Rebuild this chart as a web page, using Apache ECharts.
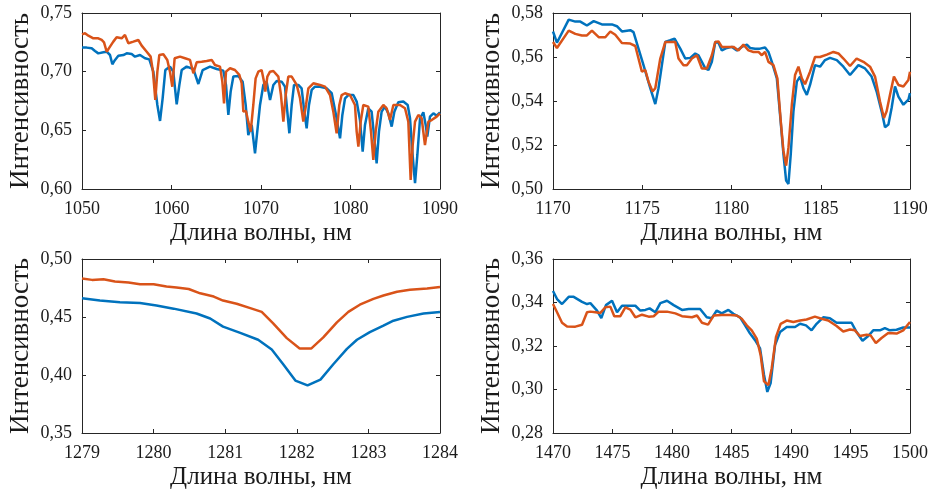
<!DOCTYPE html>
<html>
<head>
<meta charset="utf-8">
<script src="https://cdn.jsdelivr.net/npm/echarts@6/dist/echarts.min.js"></script>
<style>
  html, body { margin: 0; padding: 0; background: #fff; }
  #chart { width: 934px; height: 491px; }
</style>
</head>
<body>
<div id="chart"></div>
<script>
// ---- Spectral range 1050–1090 nm ----
const wlA1 = [1050.00,1050.52,1051.08,1051.45,1051.82,1052.38,1052.76,1053.13,1053.39,1053.69,1054.06,1054.62,1054.99,1055.55,1055.92,1056.48,1057.04,1057.52,1057.97,1058.42,1058.72,1059.01,1059.31,1059.83,1060.20,1060.58,1060.88,1061.14,1061.69,1062.44,1063.00,1063.48,1064.30,1065.05,1065.79,1066.09,1066.35,1066.61,1066.91,1067.47,1067.95,1068.29,1068.58,1068.96,1069.33,1069.89,1070.26,1070.63,1071.01,1071.38,1071.75,1072.31,1072.68,1072.94,1073.17,1073.43,1073.69,1074.17,1074.54,1074.84,1075.10,1075.36,1075.66,1076.03,1076.59,1077.34,1077.90,1078.38,1078.83,1079.09,1079.39,1079.76,1080.32,1080.69,1081.06,1081.36,1081.62,1081.99,1082.36,1082.66,1082.92,1083.18,1083.48,1083.85,1084.23,1084.60,1084.90,1085.34,1085.90,1086.39,1086.65,1086.91,1087.21,1087.47,1087.77,1088.14,1088.40,1088.58,1088.88,1089.26,1089.63,1090.00];
const inA1 = [0.7207,0.7205,0.7199,0.7176,0.7156,0.7165,0.7170,0.7142,0.7063,0.7100,0.7136,0.7142,0.7156,0.7150,0.7128,0.7142,0.7114,0.7105,0.7000,0.6716,0.6580,0.6773,0.7014,0.7043,0.7000,0.6722,0.6887,0.7014,0.7043,0.7023,0.6895,0.7014,0.7043,0.7023,0.7009,0.6887,0.6631,0.6830,0.6958,0.6963,0.6915,0.6716,0.6460,0.6546,0.6304,0.6716,0.6887,0.6915,0.6759,0.6887,0.6921,0.6915,0.6872,0.6659,0.6475,0.6716,0.6887,0.6887,0.6858,0.6659,0.6517,0.6716,0.6844,0.6872,0.6872,0.6858,0.6816,0.6631,0.6432,0.6631,0.6773,0.6801,0.6801,0.6745,0.6588,0.6319,0.6546,0.6688,0.6659,0.6432,0.6219,0.6489,0.6659,0.6702,0.6645,0.6532,0.6659,0.6739,0.6745,0.6716,0.6603,0.6319,0.6049,0.6290,0.6603,0.6654,0.6546,0.6446,0.6617,0.6645,0.6625,0.6654];
const wlA2 = [1050.00,1050.34,1050.71,1051.27,1051.82,1052.20,1052.46,1052.76,1053.13,1053.50,1053.87,1054.43,1054.80,1055.18,1055.74,1056.29,1056.67,1057.23,1057.67,1057.93,1058.19,1058.42,1058.64,1059.09,1059.53,1059.83,1060.09,1060.35,1060.95,1061.51,1062.07,1062.44,1062.81,1063.37,1063.93,1064.49,1064.86,1065.42,1065.68,1065.87,1066.09,1066.54,1067.09,1067.58,1067.84,1068.03,1068.32,1068.58,1068.85,1069.14,1069.40,1069.70,1070.07,1070.34,1070.48,1070.71,1071.01,1071.38,1071.94,1072.23,1072.50,1072.76,1073.05,1073.43,1073.99,1074.36,1074.73,1075.03,1075.29,1075.85,1076.59,1077.15,1077.71,1078.08,1078.45,1078.75,1079.01,1079.39,1079.94,1080.50,1080.69,1080.88,1081.14,1081.43,1081.99,1082.29,1082.55,1082.81,1083.11,1083.67,1084.04,1084.41,1084.79,1085.53,1086.09,1086.46,1086.72,1086.95,1087.21,1087.58,1087.95,1088.32,1088.70,1089.07,1089.63,1090.00];
const inA2 = [0.7318,0.7327,0.7307,0.7284,0.7284,0.7270,0.7250,0.7170,0.7213,0.7256,0.7293,0.7284,0.7313,0.7242,0.7256,0.7270,0.7222,0.7170,0.7128,0.7000,0.6759,0.7000,0.7142,0.7148,0.7100,0.7000,0.6872,0.7114,0.7128,0.7114,0.7100,0.6986,0.7080,0.7085,0.7091,0.7100,0.7057,0.7043,0.6915,0.6730,0.7000,0.7029,0.7014,0.6972,0.6901,0.6660,0.6665,0.6574,0.6489,0.6716,0.6943,0.7000,0.7014,0.6915,0.6830,0.6958,0.7000,0.7006,0.6958,0.6801,0.6574,0.6801,0.6958,0.6958,0.6887,0.6773,0.6574,0.6716,0.6858,0.6901,0.6887,0.6872,0.6801,0.6659,0.6475,0.6716,0.6801,0.6816,0.6801,0.6716,0.6489,0.6361,0.6574,0.6716,0.6702,0.6489,0.6248,0.6489,0.6659,0.6716,0.6688,0.6588,0.6716,0.6716,0.6688,0.6574,0.6077,0.6375,0.6574,0.6631,0.6603,0.6375,0.6574,0.6588,0.6617,0.6645];

// ---- Spectral range 1170–1190 nm ----
const wlB1 = [1170.00,1170.22,1170.88,1171.25,1171.53,1171.90,1172.28,1172.74,1173.30,1173.58,1173.86,1174.33,1174.51,1174.79,1175.07,1175.45,1175.73,1175.91,1176.10,1176.29,1176.57,1176.81,1177.13,1177.41,1177.69,1177.97,1178.15,1178.53,1178.71,1178.90,1179.09,1179.27,1179.46,1179.74,1180.02,1180.30,1180.58,1180.86,1181.04,1181.32,1181.60,1181.88,1182.07,1182.26,1182.54,1182.72,1182.91,1183.06,1183.19,1183.32,1183.47,1183.66,1183.84,1184.03,1184.22,1184.40,1184.68,1184.96,1185.24,1185.52,1185.90,1186.27,1186.64,1187.11,1187.48,1187.85,1188.13,1188.41,1188.60,1188.79,1188.97,1189.16,1189.35,1189.63,1189.91,1190.00];
const inB1 = [0.5716,0.5665,0.5770,0.5761,0.5761,0.5743,0.5763,0.5748,0.5748,0.5740,0.5716,0.5722,0.5713,0.5638,0.5563,0.5458,0.5386,0.5458,0.5563,0.5668,0.5676,0.5683,0.5638,0.5593,0.5596,0.5616,0.5608,0.5548,0.5541,0.5578,0.5668,0.5665,0.5630,0.5641,0.5646,0.5630,0.5646,0.5656,0.5641,0.5638,0.5638,0.5643,0.5623,0.5578,0.5503,0.5338,0.5158,0.5038,0.5023,0.5158,0.5353,0.5488,0.5511,0.5458,0.5428,0.5473,0.5563,0.5556,0.5586,0.5596,0.5586,0.5556,0.5518,0.5563,0.5548,0.5511,0.5443,0.5353,0.5281,0.5293,0.5368,0.5466,0.5420,0.5383,0.5406,0.5436];
const wlB2 = [1170.00,1170.22,1170.88,1171.25,1171.62,1171.90,1172.18,1172.56,1172.93,1173.21,1173.49,1173.86,1174.33,1174.61,1174.98,1175.17,1175.35,1175.58,1175.73,1176.01,1176.29,1176.66,1176.85,1177.03,1177.31,1177.50,1177.78,1178.06,1178.34,1178.62,1178.90,1179.09,1179.27,1179.46,1179.83,1180.11,1180.39,1180.67,1180.95,1181.23,1181.51,1181.70,1181.88,1182.07,1182.35,1182.57,1182.76,1182.91,1183.06,1183.19,1183.38,1183.56,1183.75,1183.94,1184.12,1184.40,1184.68,1184.96,1185.34,1185.71,1185.99,1186.27,1186.64,1187.01,1187.39,1187.76,1188.04,1188.32,1188.54,1188.69,1188.88,1189.10,1189.35,1189.63,1189.91,1190.00];
const inB2 = [0.5668,0.5641,0.5720,0.5705,0.5698,0.5698,0.5720,0.5690,0.5690,0.5716,0.5701,0.5664,0.5661,0.5650,0.5533,0.5541,0.5488,0.5443,0.5458,0.5593,0.5668,0.5668,0.5668,0.5593,0.5563,0.5563,0.5593,0.5608,0.5548,0.5548,0.5608,0.5668,0.5671,0.5646,0.5646,0.5646,0.5630,0.5656,0.5630,0.5623,0.5623,0.5608,0.5623,0.5578,0.5563,0.5503,0.5308,0.5173,0.5106,0.5188,0.5383,0.5518,0.5556,0.5503,0.5476,0.5533,0.5600,0.5600,0.5611,0.5623,0.5616,0.5593,0.5559,0.5593,0.5578,0.5556,0.5511,0.5398,0.5323,0.5353,0.5428,0.5511,0.5473,0.5466,0.5496,0.5533];

// ---- Spectral range 1279–1284 nm ----
const wlC1 = [1279.00,1279.25,1279.53,1279.81,1280.04,1280.28,1280.60,1280.79,1280.97,1281.21,1281.46,1281.65,1281.81,1281.98,1282.15,1282.33,1282.51,1282.70,1282.84,1283.02,1283.21,1283.35,1283.54,1283.77,1284.00];
const inC1 = [0.4662,0.4642,0.4628,0.4620,0.4600,0.4572,0.4530,0.4487,0.4417,0.4363,0.4304,0.4220,0.4093,0.3952,0.3910,0.3960,0.4093,0.4225,0.4304,0.4369,0.4425,0.4468,0.4501,0.4530,0.4544];
const wlC2 = [1279.00,1279.14,1279.30,1279.46,1279.65,1279.81,1280.00,1280.18,1280.32,1280.49,1280.65,1280.84,1280.97,1281.16,1281.35,1281.51,1281.67,1281.86,1282.04,1282.20,1282.37,1282.56,1282.72,1282.88,1283.07,1283.21,1283.40,1283.58,1283.82,1284.00];
const inC2 = [0.4831,0.4820,0.4825,0.4806,0.4797,0.4783,0.4783,0.4763,0.4755,0.4741,0.4704,0.4676,0.4642,0.4614,0.4577,0.4544,0.4445,0.4318,0.4228,0.4228,0.4324,0.4454,0.4544,0.4606,0.4656,0.4685,0.4718,0.4735,0.4746,0.4758];

// ---- Spectral range 1470–1500 nm ----
const wlD1 = [1470.00,1470.34,1470.76,1471.32,1471.74,1472.44,1472.86,1473.14,1473.70,1474.06,1474.45,1474.96,1475.38,1475.80,1476.50,1476.92,1477.34,1477.76,1478.12,1478.60,1479.02,1479.58,1480.14,1480.84,1481.40,1481.96,1482.36,1482.92,1483.34,1483.76,1484.18,1484.74,1485.16,1485.72,1486.14,1486.56,1486.98,1487.40,1487.73,1488.01,1488.29,1488.66,1489.08,1489.64,1490.34,1490.76,1491.26,1491.73,1492.15,1492.71,1493.27,1493.83,1494.53,1495.09,1495.51,1496.01,1496.49,1496.91,1497.47,1497.89,1498.31,1498.87,1499.43,1500.00];
const inD1 = [0.3453,0.3416,0.3393,0.3426,0.3426,0.3403,0.3393,0.3397,0.3363,0.3328,0.3388,0.3408,0.3355,0.3385,0.3385,0.3385,0.3363,0.3366,0.3373,0.3355,0.3397,0.3408,0.3388,0.3366,0.3370,0.3370,0.3370,0.3332,0.3328,0.3363,0.3350,0.3366,0.3348,0.3332,0.3295,0.3257,0.3227,0.3189,0.3068,0.2989,0.3030,0.3204,0.3264,0.3287,0.3287,0.3302,0.3295,0.3272,0.3302,0.3332,0.3328,0.3307,0.3307,0.3307,0.3264,0.3224,0.3246,0.3272,0.3272,0.3282,0.3272,0.3275,0.3285,0.3285];
const wlD2 = [1470.00,1470.34,1470.76,1471.18,1471.88,1472.44,1472.86,1473.14,1473.56,1473.98,1474.40,1474.82,1475.15,1475.66,1476.08,1476.50,1476.92,1477.48,1478.04,1478.46,1478.88,1479.58,1480.28,1480.84,1481.68,1482.10,1482.52,1483.03,1483.50,1484.18,1484.88,1485.44,1485.86,1486.28,1486.70,1487.12,1487.45,1487.73,1488.10,1488.38,1488.74,1489.13,1489.64,1490.20,1490.76,1491.31,1492.01,1492.57,1493.13,1493.83,1494.39,1494.95,1495.37,1495.79,1496.35,1496.69,1497.13,1497.61,1498.17,1498.87,1499.43,1500.00];
const inD2 = [0.3393,0.3355,0.3307,0.3290,0.3289,0.3298,0.3355,0.3358,0.3355,0.3352,0.3378,0.3381,0.3337,0.3337,0.3378,0.3367,0.3332,0.3344,0.3335,0.3337,0.3358,0.3358,0.3350,0.3337,0.3332,0.3340,0.3307,0.3298,0.3340,0.3343,0.3343,0.3340,0.3325,0.3295,0.3272,0.3234,0.3158,0.3038,0.3020,0.3098,0.3242,0.3302,0.3317,0.3310,0.3317,0.3322,0.3335,0.3325,0.3317,0.3292,0.3267,0.3276,0.3272,0.3246,0.3252,0.3249,0.3214,0.3237,0.3260,0.3257,0.3272,0.3310];

// Axis ranges and tick steps per panel
const xRanges = [[1050, 1090, 10], [1170, 1190, 5], [1279, 1284, 1], [1470, 1500, 5]];
const yRanges = [[0.60, 0.75, 0.05], [0.50, 0.58, 0.02], [0.35, 0.50, 0.05], [0.28, 0.36, 0.02]];
const xTitle = 'Длина волны, нм';
const yTitle = 'Интенсивность';

const blueSets = [[wlA1, inA1], [wlB1, inB1], [wlC1, inC1], [wlD1, inD1]];
const redSets = [[wlA2, inA2], [wlB2, inB2], [wlC2, inC2], [wlD2, inD2]];

const zip = (xs, ys) => xs.map((x, i) => [x, ys[i]]);

const FONT = 'Liberation Serif';
const INK = '#1a1a1a';
const FRAME = '#262626';

const grids = [
  { left: 82, top: 13, width: 358, height: 176 },
  { left: 553, top: 13, width: 357, height: 176 },
  { left: 82, top: 259, width: 358, height: 176 },
  { left: 553, top: 259, width: 357, height: 176 }
];

const lineStyle = { color: FRAME, width: 1 };
const tick = { show: true, inside: true, length: 4, lineStyle: { color: FRAME, width: 1 } };

const xAxes = [], yAxes = [], series = [];
grids.forEach((g, i) => {
  const [x0, x1, xs] = xRanges[i];
  const [y0, y1, ys] = yRanges[i];
  // bottom axis with labels
  xAxes.push({
    type: 'value', gridIndex: i, position: 'bottom', min: x0, max: x1, interval: xs,
    axisLine: { show: true, onZero: false, lineStyle },
    axisTick: tick, splitLine: { show: false },
    axisLabel: { show: true, margin: 11, color: INK, fontFamily: FONT, fontSize: 18,
      showMinLabel: true, showMaxLabel: true, formatter: v => String(Math.round(v)) },
    name: xTitle, nameLocation: 'middle', nameGap: 32,
    nameTextStyle: { color: INK, fontFamily: FONT, fontSize: 25 }
  });
  // mirrored top axis (ticks only)
  xAxes.push({
    type: 'value', gridIndex: i, position: 'top', min: x0, max: x1, interval: xs,
    axisLine: { show: true, onZero: false, lineStyle },
    axisTick: tick, splitLine: { show: false }, axisLabel: { show: false }
  });
  // left axis with labels
  yAxes.push({
    type: 'value', gridIndex: i, position: 'left', min: y0, max: y1, interval: ys,
    axisLine: { show: true, onZero: false, lineStyle },
    axisTick: tick, splitLine: { show: false },
    axisLabel: { show: true, margin: 10, color: INK, fontFamily: FONT, fontSize: 18,
      showMinLabel: true, showMaxLabel: true, formatter: v => v.toFixed(2).replace('.', ',') },
    name: yTitle, nameLocation: 'middle', nameGap: 48, nameRotate: 90,
    nameTextStyle: { color: INK, fontFamily: FONT, fontSize: 27 }
  });
  // mirrored right axis (ticks only)
  yAxes.push({
    type: 'value', gridIndex: i, position: 'right', min: y0, max: y1, interval: ys,
    axisLine: { show: true, onZero: false, lineStyle },
    axisTick: tick, splitLine: { show: false }, axisLabel: { show: false }
  });

  series.push({
    name: 'спектр 1', type: 'line', xAxisIndex: 2 * i, yAxisIndex: 2 * i,
    data: zip(blueSets[i][0], blueSets[i][1]), showSymbol: false, symbol: 'none',
    lineStyle: { color: '#0072BD', width: 2.5 }, clip: true, z: 2
  });
  series.push({
    name: 'спектр 2', type: 'line', xAxisIndex: 2 * i, yAxisIndex: 2 * i,
    data: zip(redSets[i][0], redSets[i][1]), showSymbol: false, symbol: 'none',
    lineStyle: { color: '#D95319', width: 2.5 }, clip: true, z: 3
  });
});

const chart = echarts.init(document.getElementById('chart'));
chart.setOption({
  animation: false,
  backgroundColor: '#ffffff',
  grid: grids,
  xAxis: xAxes,
  yAxis: yAxes,
  series: series
});
</script>
</body>
</html>
